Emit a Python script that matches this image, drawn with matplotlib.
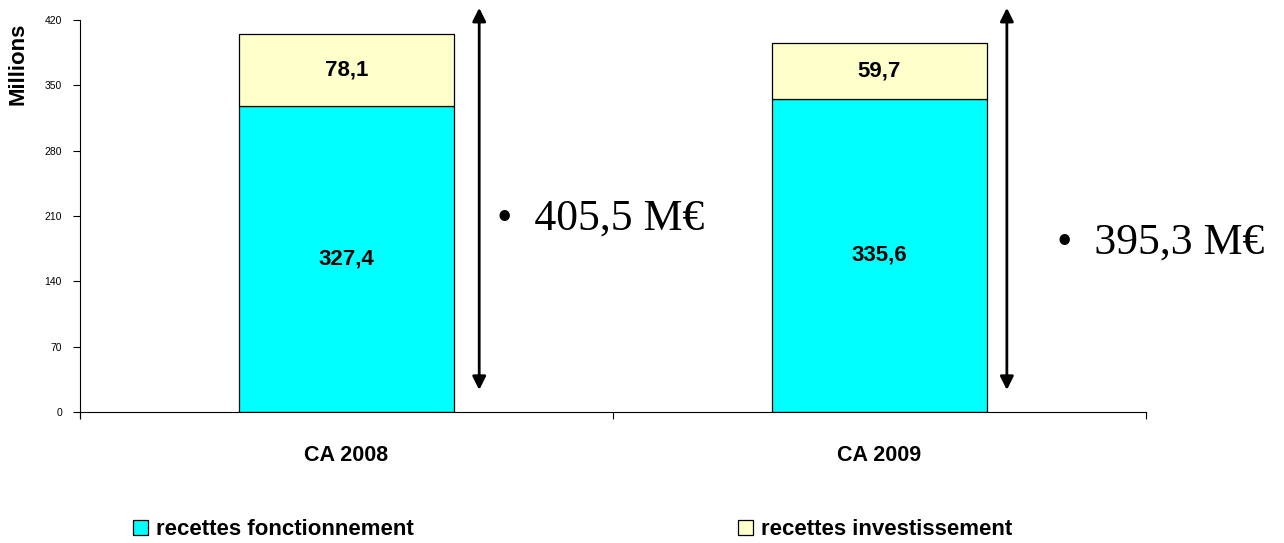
import numpy as np
import matplotlib
matplotlib.use("Agg")
import matplotlib.pyplot as plt

plt.rcParams['font.family'] = ['Liberation Sans', 'DejaVu Sans']

# recettes (millions d'euros)
categories = ["CA 2008", "CA 2009"]
fonctionnement = [327.4, 335.6]
investissement = [78.1, 59.7]
series_names = ["recettes fonctionnement", "recettes investissement"]
yticks = [0, 70, 140, 210, 280, 350, 420]

def fr(v):
    return ("%.1f" % v).replace(".", ",")

fig = plt.figure(figsize=(12.84, 5.43), dpi=100)
ax = fig.add_axes([0.0623, 0.2413, 0.8302, 0.7219])

x = np.arange(len(categories))
w = 0.403
b1 = ax.bar(x, fonctionnement, w, color="#00FFFF", edgecolor="black", linewidth=0.9,
            label=series_names[0])
b2 = ax.bar(x, investissement, w, bottom=fonctionnement, color="#FFFFCC",
            edgecolor="black", linewidth=0.9, label=series_names[1])

for i in range(len(categories)):
    ax.text(x[i], fonctionnement[i] / 2, fr(fonctionnement[i]), ha="center", va="center",
            fontsize=16, fontweight="bold")
    ax.text(x[i], fonctionnement[i] + investissement[i] / 2, fr(investissement[i]),
            ha="center", va="center", fontsize=16, fontweight="bold")

# double arrows + totals on the right of each bar
arrow_x = [0.249, 1.239]
text_x = [0.283, 1.334]
text_y = [207, 182]
for i in range(len(categories)):
    ax.annotate("", xy=(arrow_x[i], 433), xytext=(arrow_x[i], 23.6),
                arrowprops=dict(arrowstyle="<|-|>", color="black", lw=2,
                                mutation_scale=20, shrinkA=0, shrinkB=0),
                annotation_clip=False)
    total = fonctionnement[i] + investissement[i]
    ax.text(text_x[i], text_y[i], "\u2022  " + fr(total) + " M\u20ac", ha="left",
            va="center", fontsize=31.5, family=["Liberation Serif", "DejaVu Serif"],
            clip_on=False)

ax.set_xlim(-0.5, 1.5)
ax.set_ylim(0, 420)
ax.set_yticks(yticks)
ax.set_yticklabels([str(t) for t in yticks], fontsize=7.5)
ax.tick_params(axis="y", direction="out", length=5, width=0.8, pad=8)

ax.set_xticks(x)
ax.set_xticklabels(categories, fontsize=15.5, fontweight="bold")
ax.set_xticks([-0.5, 0.5, 1.5], minor=True)
ax.tick_params(axis="x", which="major", length=0, pad=24)
ax.tick_params(axis="x", which="minor", direction="out", length=5, width=0.8)

for s in ["top", "right"]:
    ax.spines[s].set_visible(False)
ax.spines["left"].set_linewidth(0.8)
ax.spines["bottom"].set_linewidth(0.8)
ax.spines["left"].set_bounds(-6, 420)

fig.text(0.014, 0.882, "Millions", rotation=90, ha="center", va="center",
         fontsize=16, fontweight="bold")

fig.legend(handles=[b1, b2], labels=series_names, loc="center left",
           bbox_to_anchor=(0.1036, 0.025), ncol=2, frameon=False,
           prop={"weight": "bold", "size": 16}, borderpad=0, borderaxespad=0,
           handlelength=0.68, handleheight=0.68, handletextpad=0.35,
           columnspacing=14.6)

fig.savefig("out.png", dpi=100)
